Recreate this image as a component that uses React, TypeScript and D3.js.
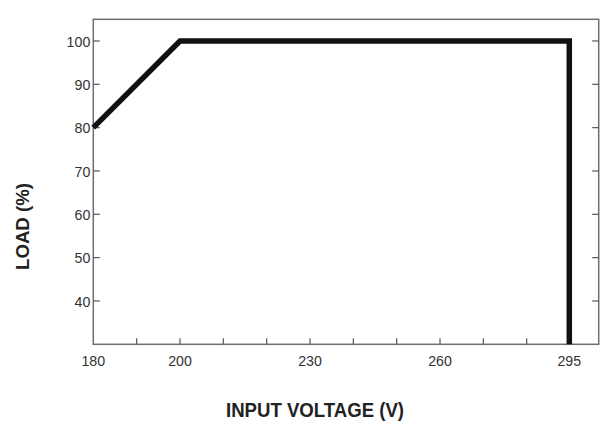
import React from "react";
import * as d3 from "d3";

const voltage = [180, 200, 295, 295];
const load = [80, 100, 100, 30];
const yTicks = [40, 50, 60, 70, 80, 90, 100];
const xMinorTicks = [190, 200, 210, 220, 230, 240, 250, 260, 270, 280];
const xLabels = [180, 200, 230, 260, 295];
const xTitle = "INPUT VOLTAGE (V)";
const yTitle = "LOAD (%)";

const W = 606;
const H = 434;
const left = 93.3;
const right = 598.7;
const top = 19.3;
const bottom = 344.3;

export default function App() {
  // axis breaks slightly after 280: 295 sits one step past 280
  const x = d3.scaleLinear().domain([180, 280, 295]).range([left, 526.7, 569.3]);
  const y = d3.scaleLinear().domain([30, 105]).range([bottom, top]);
  const pts = voltage.map((v, i) => [x(v), y(load[i])] as [number, number]);
  const line = d3.line()(pts) || "";
  const font = "'Liberation Sans', Arial, sans-serif";
  const lblW = (t: number) => String(t).length * 7.9;
  return (
    <svg width={W} height={H} style={{ position: "absolute", left: 0, top: 0, background: "#fff" }}>
      <rect x={left} y={top} width={right - left} height={bottom - top} fill="none" stroke="#6e6e6e" strokeWidth={1.5} />
      {yTicks.map((t) => (
        <g key={"y" + t}>
          <line x1={left} x2={left + 6.5} y1={y(t)} y2={y(t)} stroke="#555" strokeWidth={1.2} />
          <line x1={right} x2={right - 6.5} y1={y(t)} y2={y(t)} stroke="#555" strokeWidth={1.2} />
          <text x={left - 3} y={y(t)} dy="0.36em" textAnchor="end" fontFamily={font} fontSize={15.5} fill="#333" textLength={lblW(t)} lengthAdjust="spacingAndGlyphs">
            {t}
          </text>
        </g>
      ))}
      {xMinorTicks.map((t) => (
        <line key={"x" + t} x1={x(t)} x2={x(t)} y1={bottom} y2={bottom - 6} stroke="#555" strokeWidth={1.2} />
      ))}
      {xLabels.map((t) => (
        <text key={"xl" + t} x={x(t)} y={365.5} textAnchor="middle" fontFamily={font} fontSize={15.5} fill="#333" textLength={lblW(t)} lengthAdjust="spacingAndGlyphs">
          {t}
        </text>
      ))}
      <path d={line} fill="none" stroke="#111" strokeWidth={5.5} strokeLinejoin="miter" strokeLinecap="butt" />
      <text x={315} y={416.7} textAnchor="middle" fontFamily={font} fontWeight="bold" fontSize={20} fill="#222" textLength={178} lengthAdjust="spacingAndGlyphs">
        {xTitle}
      </text>
      <text transform="translate(29,226.5) rotate(-90)" textAnchor="middle" fontFamily={font} fontWeight="bold" fontSize={19} fill="#222" textLength={87} lengthAdjust="spacingAndGlyphs">
        {yTitle}
      </text>
    </svg>
  );
}
